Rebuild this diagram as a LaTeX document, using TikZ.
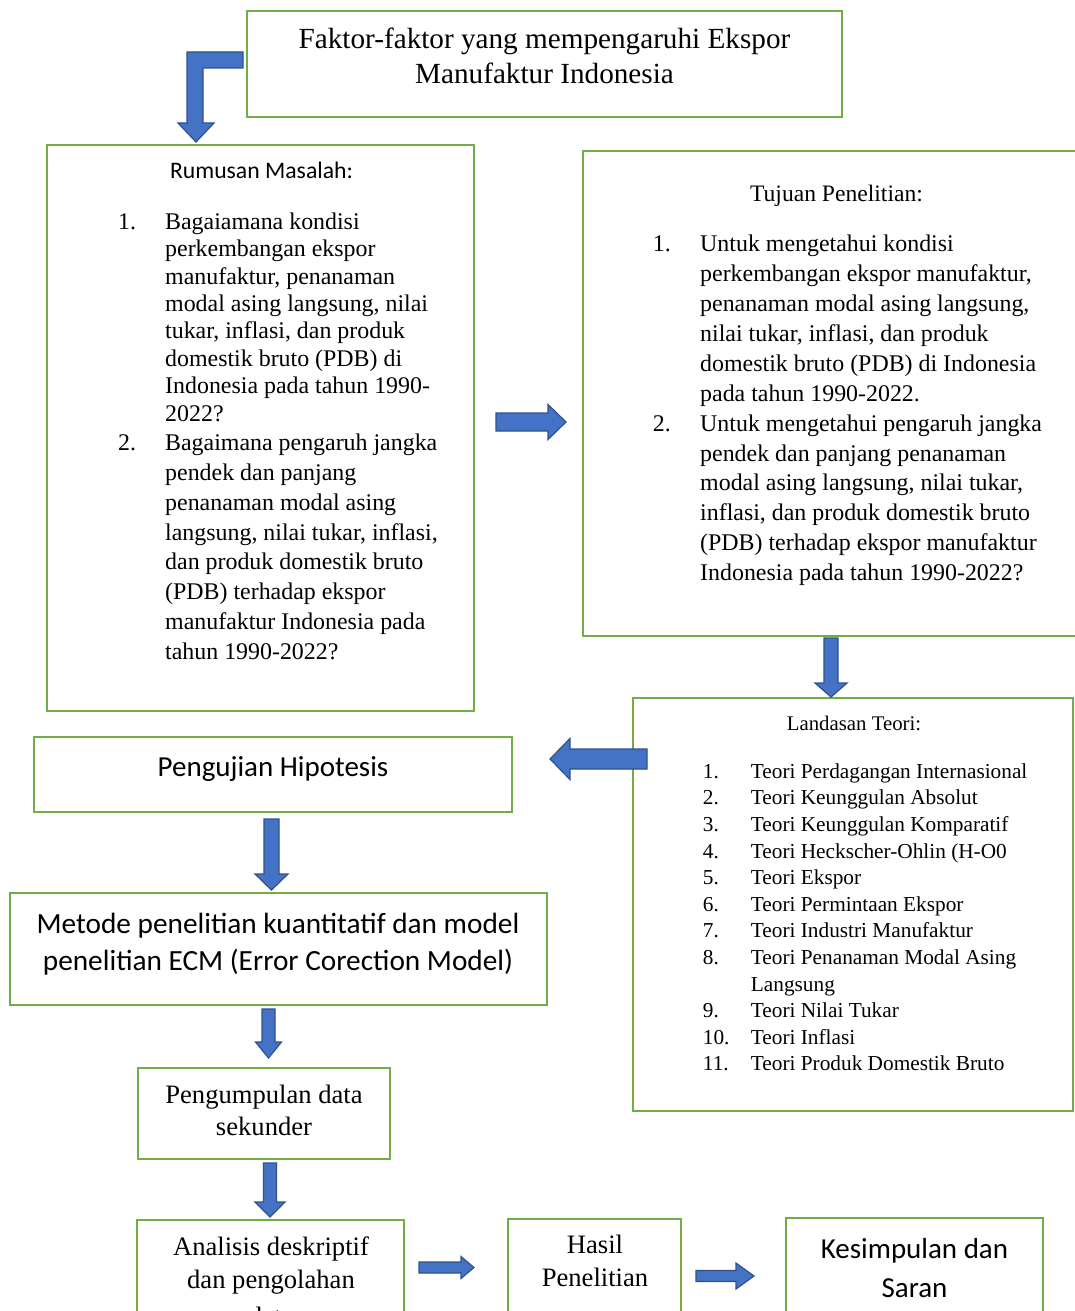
\documentclass[tikz,border=0pt]{standalone}
\usepackage{fontspec}
\setmainfont{Liberation Serif}
\setsansfont{Carlito}
\usetikzlibrary{calc}
\definecolor{boxgreen}{HTML}{70AD47}
\definecolor{arrowblue}{HTML}{4472C4}
\definecolor{arrowedge}{HTML}{2F528F}
% #1 tail, #2 tip, #3 half shaft width, #4 half head width, #5 head length
\newcommand{\fatarrow}[5]{%
  \coordinate (hb) at ($(#2)!#5!(#1)$);
  \draw[blockarrow] ($(#1)!#3!90:(#2)$) -- ($(hb)!#3!90:(#2)$) -- ($(hb)!#4!90:(#2)$) -- (#2)
    -- ($(hb)!#4!-90:(#2)$) -- ($(hb)!#3!-90:(#2)$) -- ($(#1)!#3!-90:(#2)$) -- cycle;
}
\begin{document}
\begin{tikzpicture}[x=1pt,y=-1pt,
  box/.style={draw=boxgreen, line width=2.8pt, inner sep=0pt, outer sep=0pt, anchor=north west},
  blockarrow/.style={fill=arrowblue, draw=arrowedge, line width=1.2pt, line join=miter},
  txt/.style={inner sep=0pt, anchor=base},
  serA/.style={font=\fontsize{29.2}{35}\selectfont},
  serB/.style={font=\fontsize{26.6}{32}\selectfont},
  serC/.style={font=\fontsize{23.6}{28}\selectfont},
  serD/.style={font=\fontsize{20.8}{25}\selectfont},
  sanA/.style={font=\sffamily\fontsize{29}{35}\selectfont},
  sanM/.style={font=\sffamily\fontsize{29.3}{35}\selectfont},
  sanB/.style={font=\sffamily\fontsize{23.7}{28}\selectfont}]
\useasboundingbox (0,0) rectangle (1075,1311);
\clip (0,0) rectangle (1075,1311);
\fill[white] (0,0) rectangle (1075,1311);

% ---------- boxes ----------
\node[box, minimum width=595pt, minimum height=106pt] (top) at (247,11) {};
\node[box, minimum width=427pt, minimum height=566pt] (rum) at (47,145) {};
\node[box, draw=none, minimum width=507pt, minimum height=485pt] (tuj) at (583,151) {};
\draw[boxgreen, line width=2.8pt] (tuj.north east) -- (tuj.north west) -- (tuj.south west) -- (tuj.south east);
\node[box, minimum width=440pt, minimum height=413pt] (lan) at (633,698) {};
\node[box, minimum width=478pt, minimum height=75pt] (pen) at (34,737) {};
\node[box, minimum width=537pt, minimum height=112pt] (met) at (10,893) {};
\node[box, minimum width=252pt, minimum height=91pt] (pgm) at (138,1068) {};
\node[box, minimum width=267pt, minimum height=120pt] (ana) at (137,1220) {};
\node[box, minimum width=173pt, minimum height=121pt] (has) at (508,1219) {};
\node[box, minimum width=257pt, minimum height=122pt] (kes) at (786,1218) {};

% ---------- texts ----------
\node[txt, serA] (top1) at (544.5,48.3) {Faktor-faktor yang mempengaruhi Ekspor};
\node[txt, serA] (top2) at (544.5,83.5) {Manufaktur Indonesia};

\node[txt, sanB] (rumT) at (261.5,178) {Rumusan Masalah:};
\node[inner sep=0pt, anchor=base west, font=\fontsize{23.9}{27.4}\selectfont] (rumL) at (118,229.3) {%
\begin{tabular}[t]{@{}p{47pt}@{}l@{}}
1. & Bagaiamana kondisi\\
   & perkembangan ekspor\\
   & manufaktur, penanaman\\
   & modal asing langsung, nilai\\
   & tukar, inflasi, dan produk\\
   & domestik bruto (PDB) di\\
   & Indonesia pada tahun 1990-\\
   & 2022?\\[1.8pt]
2. & Bagaimana pengaruh jangka\\[2.5pt]
   & pendek dan panjang\\[2.5pt]
   & penanaman modal asing\\[2.5pt]
   & langsung, nilai tukar, inflasi,\\[2.5pt]
   & dan produk domestik bruto\\[2.5pt]
   & (PDB) terhadap ekspor\\[2.5pt]
   & manufaktur Indonesia pada\\[2.5pt]
   & tahun 1990-2022?
\end{tabular}};

\node[txt, serC] (tujT) at (836.5,201.7) {Tujuan Penelitian:};
\node[inner sep=0pt, anchor=base west, font=\fontsize{23.9}{29.9}\selectfont] (tujL) at (652.7,251.7) {%
\begin{tabular}[t]{@{}p{47.3pt}@{}l@{}}
1. & Untuk mengetahui kondisi\\
   & perkembangan ekspor manufaktur,\\
   & penanaman modal asing langsung,\\
   & nilai tukar, inflasi, dan produk\\
   & domestik bruto (PDB) di Indonesia\\
   & pada tahun 1990-2022.\\
2. & Untuk mengetahui pengaruh jangka\\
   & pendek dan panjang penanaman\\
   & modal asing langsung, nilai tukar,\\
   & inflasi, dan produk domestik bruto\\
   & (PDB) terhadap ekspor manufaktur\\
   & Indonesia pada tahun 1990-2022?
\end{tabular}};

\node[txt, serD] (lanT) at (854,730.7) {Landasan Teori:};
\node[inner sep=0pt, anchor=base west, font=\fontsize{21.3}{26.6}\selectfont] (lanL) at (702.7,778.3) {%
\begin{tabular}[t]{@{}p{48pt}@{}l@{}}
1.  & Teori Perdagangan Internasional\\
2.  & Teori Keunggulan Absolut\\
3.  & Teori Keunggulan Komparatif\\
4.  & Teori Heckscher-Ohlin (H-O0\\
5.  & Teori Ekspor\\
6.  & Teori Permintaan Ekspor\\
7.  & Teori Industri Manufaktur\\
8.  & Teori Penanaman Modal Asing\\
    & Langsung\\
9.  & Teori Nilai Tukar\\
10. & Teori Inflasi\\
11. & Teori Produk Domestik Bruto
\end{tabular}};

\node[txt, sanA] (penT) at (273,776.7) {Pengujian Hipotesis};
\node[txt, sanM] (met1) at (278,933) {Metode penelitian kuantitatif dan model};
\node[txt, sanM] (met2) at (278,970) {penelitian ECM (Error Corection Model)};
\node[txt, serB] (pgm1) at (264,1103) {Pengumpulan data};
\node[txt, serB] (pgm2) at (264,1135) {sekunder};
\node[txt, serB] (ana1) at (271,1255.5) {Analisis deskriptif};
\node[txt, serB] (ana2) at (271,1288.5) {dan pengolahan};
\node[txt, serB] (ana3) at (271,1325.5) {data};
\node[txt, serB] (has1) at (595,1253) {Hasil};
\node[txt, serB] (has2) at (595,1286.5) {Penelitian};
\node[txt, sanA] (kes1) at (914.5,1258) {Kesimpulan dan};
\node[txt, sanA] (kes2) at (914.5,1297) {Saran};

% ---------- arrows ----------
\coordinate (la) at ($(top.west)+(-4,-4)$);
\draw[blockarrow] (la) ++(0,-8) -- ++(-56,0) -- ++(0,71) -- ++(-9,0) -- ++(18,19)
  -- ++(18,-19) -- ++(-11,0) -- ++(0,-55) -- ++(40,0) -- cycle;

\coordinate (a1s) at (496,422);   \coordinate (a1e) at (566,422);
\coordinate (a2s) at (831,638);   \coordinate (a2e) at (831,697);
\coordinate (a3s) at (647,759);   \coordinate (a3e) at (550,759);
\coordinate (a4s) at (271.5,819); \coordinate (a4e) at (271.5,890);
\coordinate (a5s) at (268.5,1009);\coordinate (a5e) at (268.5,1058);
\coordinate (a6s) at (270,1163);  \coordinate (a6e) at (270,1217);
\coordinate (a7s) at (419,1267.5);\coordinate (a7e) at (474,1267.5);
\coordinate (a8s) at (696,1276);  \coordinate (a8e) at (754,1276);

\fatarrow{a1s}{a1e}{9pt}{17.5pt}{18pt}
\fatarrow{a2s}{a2e}{7pt}{16pt}{14pt}
\fatarrow{a3s}{a3e}{10pt}{20.5pt}{20pt}
\fatarrow{a4s}{a4e}{7.5pt}{16.5pt}{16pt}
\fatarrow{a5s}{a5e}{6.5pt}{13pt}{16pt}
\fatarrow{a6s}{a6e}{6.5pt}{15pt}{15pt}
\fatarrow{a7s}{a7e}{5.5pt}{11pt}{13pt}
\fatarrow{a8s}{a8e}{5.5pt}{13pt}{18pt}
\end{tikzpicture}
\end{document}
